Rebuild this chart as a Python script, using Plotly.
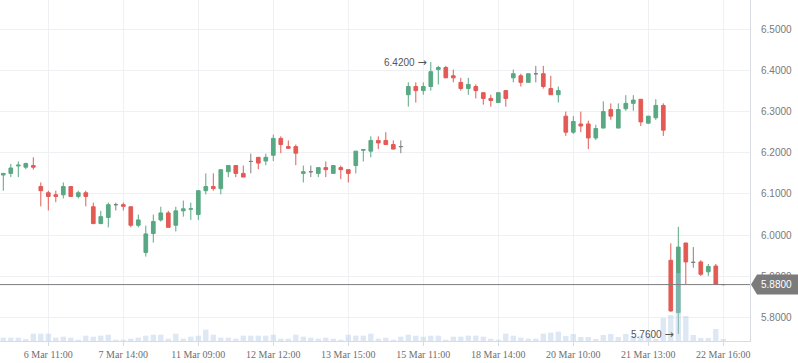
import plotly.graph_objects as go

# ---------------- data ----------------
open_ = [6.146, 6.150, 6.168, 6.165, 6.169, 6.118, 6.103, 6.098, 6.098, 6.118,
         6.094, 6.103, 6.069, 6.028, 6.043, 6.074, 6.074, 6.069, 6.024, 5.958,
         6.004, 6.037, 6.054, 6.024, 6.059, 6.063, 6.050, 6.108, 6.118, 6.113,
         6.154, 6.169, 6.150, 6.179, 6.189, 6.180, 6.194, 6.235, 6.215, 6.215,
         6.150, 6.154, 6.150, 6.164, 6.150, 6.164, 6.159, 6.169, 6.206, 6.204,
         6.230, 6.230, 6.220, 6.215, 6.341, 6.361, 6.351, 6.361, 6.402, 6.407,
         6.387, 6.371, 6.356, 6.361, 6.346, 6.332, 6.322, 6.351, 6.382, 6.387,
         6.371, 6.392, 6.392, 6.356, 6.341, 6.289, 6.250, 6.270, 6.270, 6.236,
         6.260, 6.305, 6.260, 6.307, 6.320, 6.330, 6.272, 6.285, 6.315, 5.939,
         5.812, 5.981, 5.934, 5.935, 5.911, 5.925, 5.880]
high = [6.150, 6.173, 6.179, 6.176, 6.189, 6.128, 6.108, 6.108, 6.128, 6.118,
        6.108, 6.108, 6.079, 6.059, 6.079, 6.079, 6.079, 6.069, 6.050, 6.023,
        6.050, 6.069, 6.059, 6.069, 6.084, 6.079, 6.108, 6.150, 6.150, 6.159,
        6.169, 6.169, 6.169, 6.198, 6.189, 6.198, 6.244, 6.240, 6.230, 6.220,
        6.169, 6.169, 6.164, 6.179, 6.169, 6.169, 6.159, 6.204, 6.208, 6.240,
        6.240, 6.250, 6.230, 6.230, 6.371, 6.371, 6.371, 6.420, 6.411, 6.411,
        6.402, 6.382, 6.382, 6.366, 6.346, 6.341, 6.346, 6.351, 6.402, 6.392,
        6.392, 6.411, 6.411, 6.387, 6.361, 6.300, 6.289, 6.300, 6.278, 6.268,
        6.325, 6.320, 6.320, 6.340, 6.340, 6.330, 6.289, 6.330, 6.320, 5.980,
        6.020, 5.981, 5.971, 5.939, 5.930, 5.930, 5.880]
low = [6.108, 6.141, 6.141, 6.160, 6.159, 6.070, 6.060, 6.080, 6.089, 6.094,
       6.089, 6.070, 6.028, 6.028, 6.019, 6.060, 6.060, 6.019, 6.019, 5.948,
       5.982, 6.033, 6.019, 6.009, 6.045, 6.037, 6.037, 6.099, 6.108, 6.099,
       6.141, 6.141, 6.141, 6.150, 6.160, 6.170, 6.180, 6.199, 6.209, 6.170,
       6.128, 6.141, 6.141, 6.141, 6.150, 6.136, 6.128, 6.150, 6.179, 6.189,
       6.209, 6.220, 6.209, 6.199, 6.312, 6.322, 6.341, 6.351, 6.366, 6.382,
       6.371, 6.351, 6.341, 6.332, 6.317, 6.312, 6.322, 6.312, 6.371, 6.361,
       6.371, 6.371, 6.356, 6.341, 6.322, 6.241, 6.246, 6.250, 6.209, 6.231,
       6.260, 6.280, 6.260, 6.302, 6.302, 6.265, 6.270, 6.280, 6.241, 5.814,
       5.760, 5.881, 5.921, 5.901, 5.901, 5.881, 5.880]
close = [6.150, 6.163, 6.170, 6.174, 6.165, 6.108, 6.094, 6.094, 6.118, 6.094,
         6.103, 6.094, 6.028, 6.045, 6.074, 6.074, 6.070, 6.024, 6.037, 6.003,
         6.033, 6.054, 6.019, 6.059, 6.064, 6.064, 6.108, 6.118, 6.113, 6.159,
         6.169, 6.150, 6.141, 6.179, 6.175, 6.189, 6.235, 6.220, 6.211, 6.199,
         6.154, 6.154, 6.164, 6.159, 6.169, 6.159, 6.150, 6.204, 6.208, 6.230,
         6.224, 6.220, 6.209, 6.215, 6.361, 6.351, 6.361, 6.397, 6.407, 6.382,
         6.382, 6.356, 6.366, 6.351, 6.332, 6.327, 6.346, 6.332, 6.392, 6.371,
         6.392, 6.392, 6.361, 6.341, 6.351, 6.250, 6.276, 6.265, 6.236, 6.259,
         6.300, 6.289, 6.305, 6.320, 6.328, 6.275, 6.289, 6.315, 6.255, 5.816,
         5.971, 5.935, 5.934, 5.905, 5.924, 5.881, 5.880]
volume = [3.3, 3.3, 3.3, 2.0, 7.3, 7.3, 7.3, 3.3, 4.3, 3.3,
          1.3, 5.3, 4.3, 5.3, 6.3, 1.3, 1.3, 2.3, 3.3, 5.3,
          6.3, 6.3, 2.3, 7.3, 2.3, 4.3, 5.3, 11.3, 6.3, 3.3,
          3.3, 2.3, 5.3, 5.3, 5.3, 5.3, 6.3, 2.3, 2.3, 6.3,
          4.3, 3.3, 2.3, 3.3, 2.3, 1.3, 6.3, 5.3, 5.3, 7.3,
          2.3, 3.3, 1.3, 4.3, 6.3, 5.3, 4.3, 5.3, 5.3, 1.3,
          4.3, 4.3, 5.3, 5.3, 4.3, 2.3, 1.3, 7.3, 5.3, 3.3,
          2.3, 2.3, 7.3, 8.3, 9.3, 5.0, 7.0, 4.0, 4.0, 2.0,
          6.0, 7.0, 4.0, 7.0, 5.0, 5.0, 5.0, 2.0, 23.0, 26.0,
          68.0, 25.0, 6.0, 3.0, 3.0, 12.0, 2.0]
tick_index = [6, 16, 26, 36, 46, 56, 66, 76, 86, 96]
tick_labels = ["6 Mar 11:00", "7 Mar 14:00", "11 Mar 09:00", "12 Mar 12:00",
               "13 Mar 15:00", "15 Mar 11:00", "18 Mar 14:00", "20 Mar 10:00",
               "21 Mar 13:00", "22 Mar 16:00"]
price_ticks = [5.8, 5.9, 6.0, 6.1, 6.2, 6.3, 6.4, 6.5]

# ---------------- styling ----------------
UP = "#58a883"
DOWN = "#e35a55"
DOJI = "#808080"
GRID = "#eef0f3"
AXLINE = "#d8dce1"
TAG = "#7b7b7b"

idx = list(range(len(close)))
groups = {"up": [], "down": [], "doji": []}
for i in idx:
    if close[i] > open_[i]:
        groups["up"].append(i)
    elif close[i] < open_[i]:
        groups["down"].append(i)
    else:
        groups["doji"].append(i)

fig = go.Figure()
for name, col in (("up", UP), ("down", DOWN), ("doji", DOJI)):
    ii = groups[name]
    fig.add_trace(go.Candlestick(
        x=ii,
        open=[open_[i] for i in ii], high=[high[i] for i in ii],
        low=[low[i] for i in ii], close=[close[i] for i in ii],
        increasing=dict(line=dict(color=col, width=1), fillcolor=col),
        decreasing=dict(line=dict(color=col, width=1), fillcolor=col),
        whiskerwidth=0, showlegend=False, hoverinfo="skip",
        yaxis="y",
    ))

fig.add_trace(go.Bar(
    x=idx, y=volume, yaxis="y2", marker=dict(color="rgba(173,200,228,0.42)", line=dict(width=0)),
    width=0.72, showlegend=False, hoverinfo="skip",
))

last = close[-1]
fig.add_shape(type="line", xref="paper", x0=0, x1=1, yref="y", y0=last, y1=last,
              line=dict(color="#7d7d7d", width=1), layer="above")

# max / min annotations
imax = max(idx, key=lambda i: high[i])
imin = min(idx, key=lambda i: low[i])
ann_font = dict(family="Liberation Sans, Arial, sans-serif", size=10, color="#555555")
arrow = "<span style='font-family:DejaVu Sans;font-size:11px'>→</span>"
fig.add_annotation(x=imax, y=high[imax], xref="x", yref="y", text=f"{high[imax]:.4f} {arrow}",
                   showarrow=False, xanchor="right", yanchor="middle", xshift=-2, font=ann_font)
fig.add_annotation(x=imin, y=low[imin], xref="x", yref="y", text=f"{low[imin]:.4f} {arrow}",
                   showarrow=False, xanchor="right", yanchor="middle", xshift=-2, font=ann_font)

# last price tag (pointer + label box)
fig.add_shape(type="path", xref="paper", yref="y", xsizemode="pixel", ysizemode="pixel",
              xanchor=1, yanchor=last,
              path="M 1 0 L 7 -10 L 48 -10 L 48 10 L 7 10 Z",
              fillcolor=TAG, line=dict(width=0), layer="above")
fig.add_annotation(x=1, xref="paper", y=last, yref="y", text=f"{last:.4f}",
                   showarrow=False, xanchor="left", yanchor="middle", xshift=9,
                   font=dict(family="Liberation Sans, Arial, sans-serif", size=10, color="#ffffff"))

fig.update_layout(
    width=798, height=363,
    margin=dict(l=0, r=48, t=0, b=22),
    paper_bgcolor="white", plot_bgcolor="white",
    xaxis=dict(range=[-0.44, 99.56], tickmode="array", tickvals=tick_index, ticktext=tick_labels,
               showgrid=True, gridcolor=GRID, gridwidth=1, zeroline=False,
               showline=True, linecolor=AXLINE, linewidth=1,
               ticks="outside", ticklen=4, tickcolor=AXLINE,
               tickfont=dict(family="Liberation Serif, Times New Roman, serif", size=10, color="#6e6e6e"),
               rangeslider=dict(visible=False), fixedrange=True),
    yaxis=dict(side="right", range=[5.743, 6.571], tickmode="array", tickvals=price_ticks,
               tickformat=".4f", showgrid=True, gridcolor=GRID, gridwidth=1, zeroline=False,
               showline=True, linecolor=AXLINE, linewidth=1,
               ticks="outside", ticklen=8, tickcolor="rgba(0,0,0,0)",
               tickfont=dict(family="Liberation Sans, Arial, sans-serif", size=10, color="#7a7a7a")),
    yaxis2=dict(overlaying="y", range=[0, 341], visible=False, showgrid=False),
    bargap=0.25,
)

fig.write_html("out.html", config={"displayModeBar": False},
               post_script="document.body.style.margin='0';document.body.style.overflow='hidden';")
